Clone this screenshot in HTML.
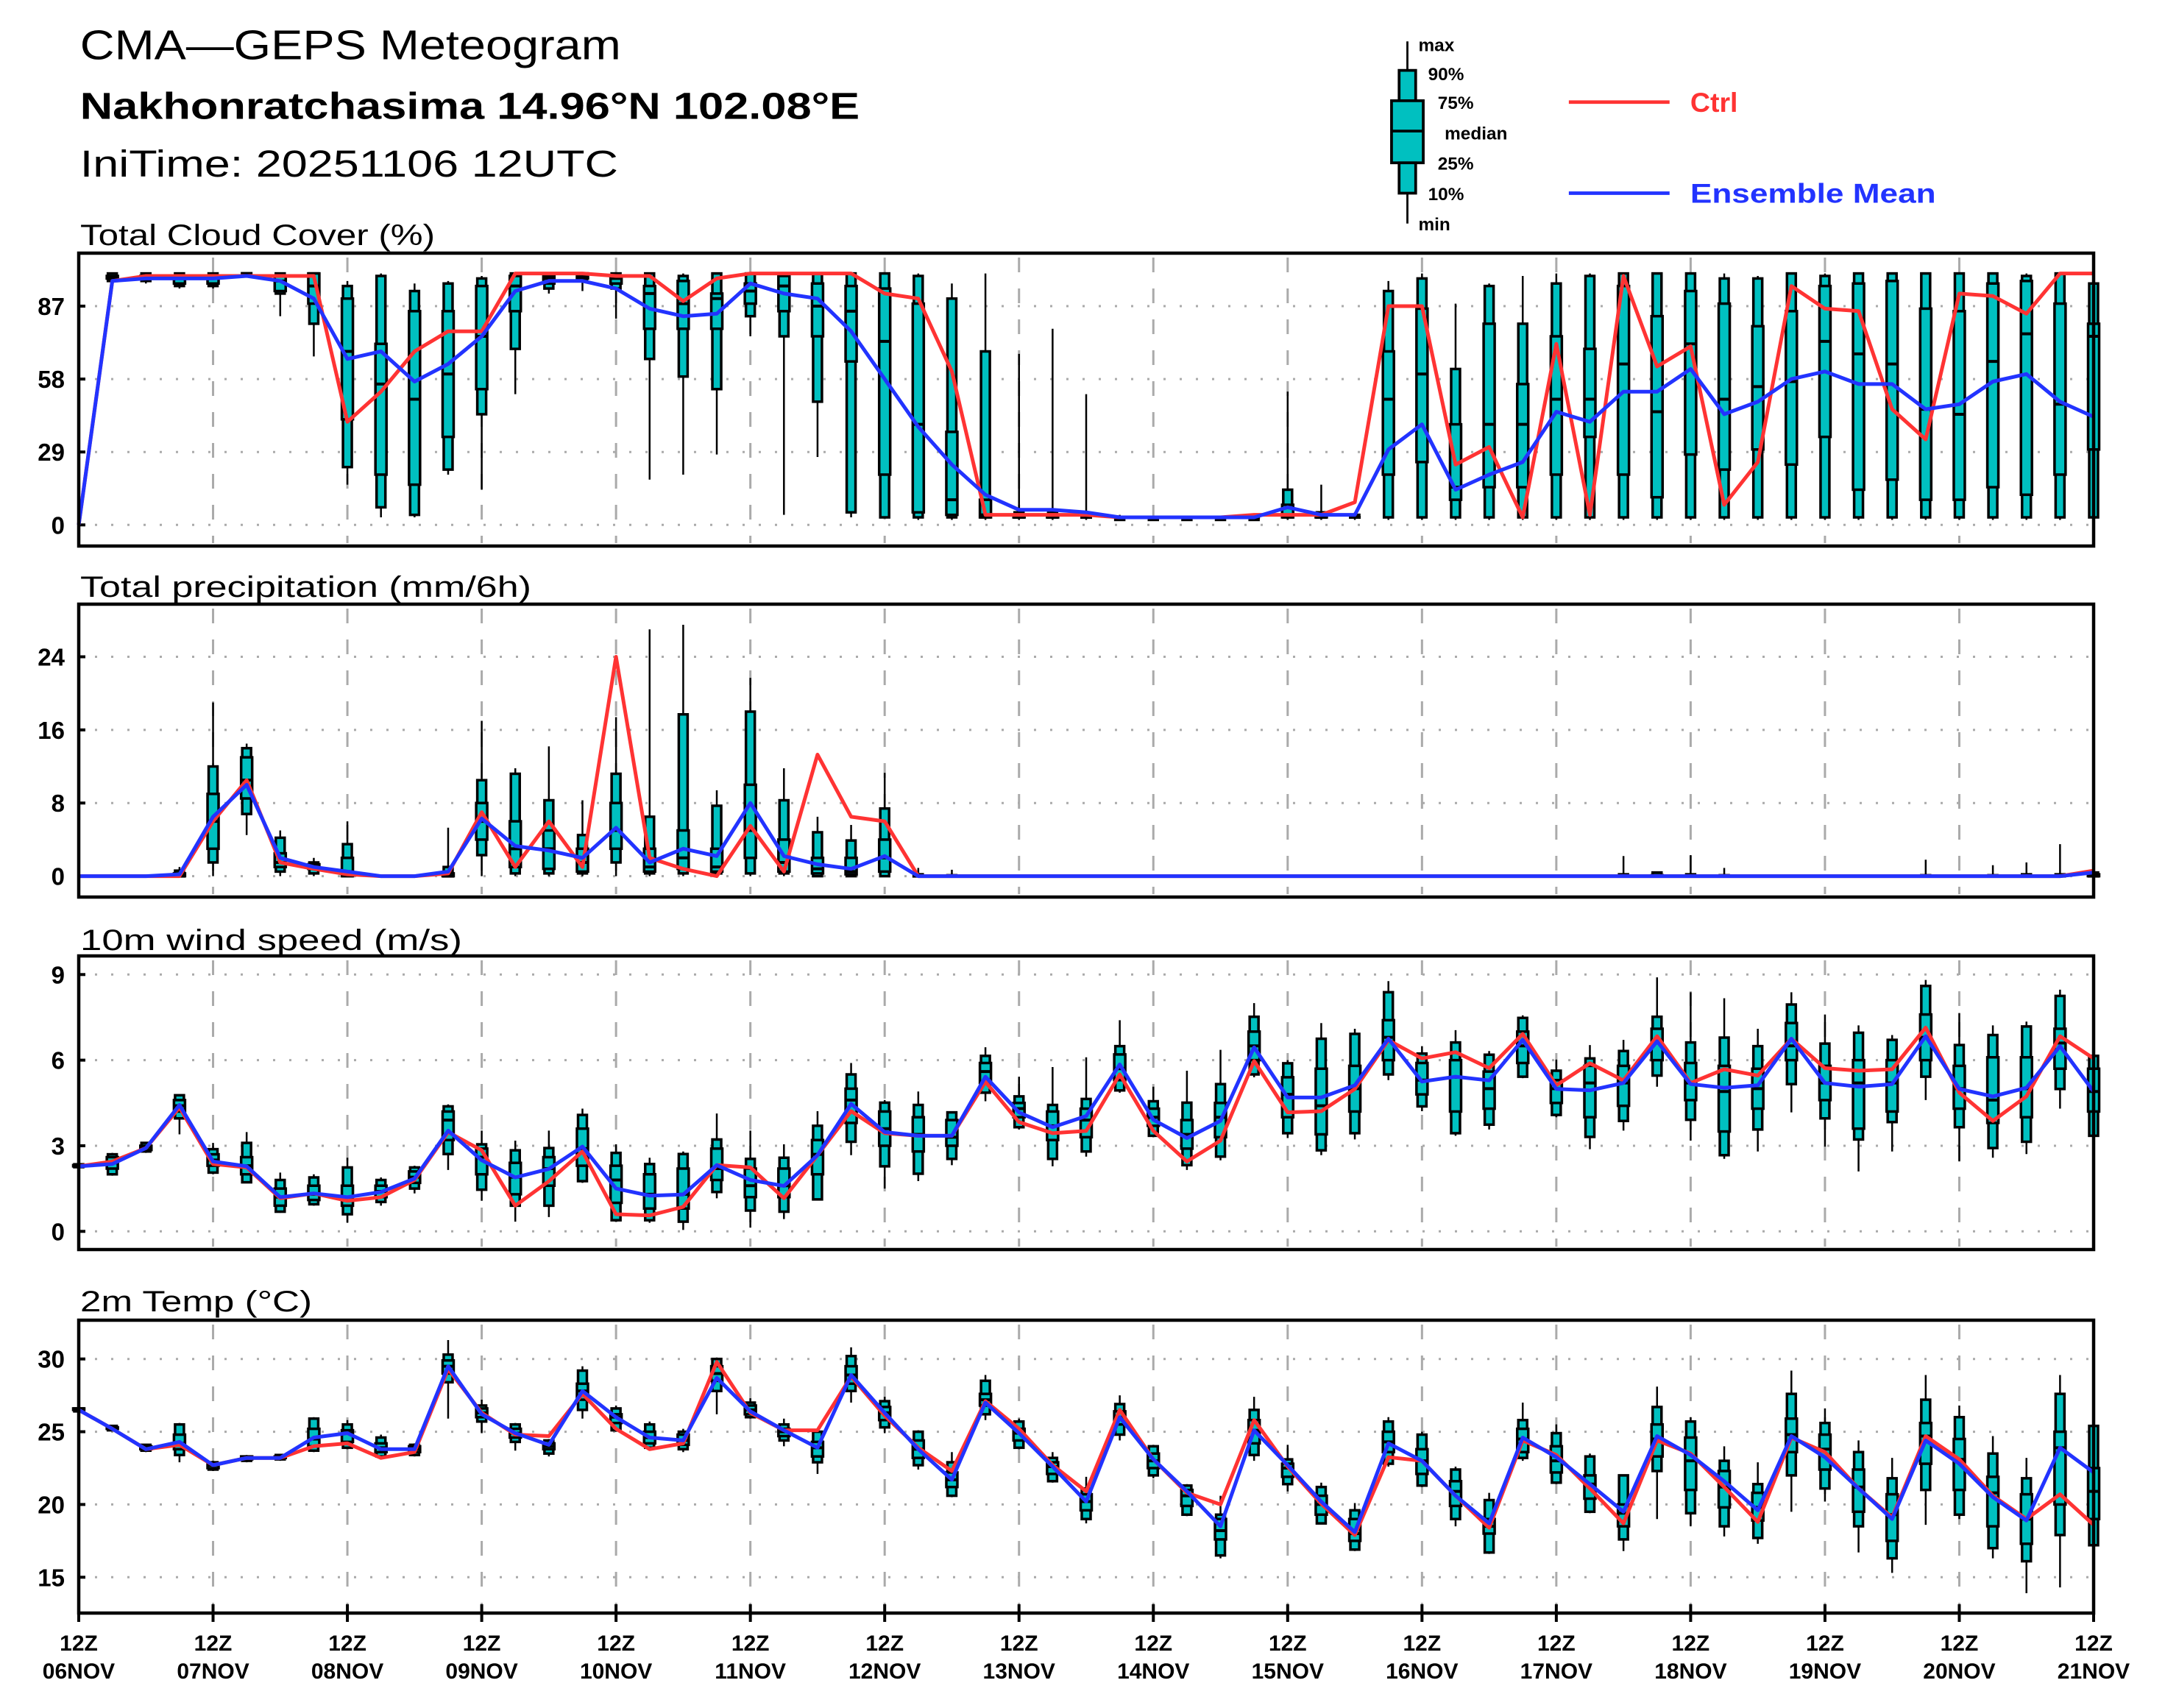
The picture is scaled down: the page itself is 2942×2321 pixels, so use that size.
<!DOCTYPE html>
<html><head><meta charset="utf-8"><title>CMA-GEPS Meteogram</title>
<style>
html,body{margin:0;padding:0;background:#fff;}
svg{display:block;}
text{font-family:"Liberation Sans",sans-serif;}
</style></head>
<body>
<svg id="chart" xmlns="http://www.w3.org/2000/svg" width="2942" height="2321" viewBox="0 0 2942 2321">
<rect x="0" y="0" width="2942" height="2321" fill="#fff"/>
<g transform="scale(1.875)">
  <text x="58" y="43" font-size="30" textLength="392" lengthAdjust="spacingAndGlyphs">CMA—GEPS Meteogram</text>
  <text x="58" y="86" font-size="27" font-weight="bold" textLength="565" lengthAdjust="spacingAndGlyphs">Nakhonratchasima 14.96°N 102.08°E</text>
  <text x="58" y="128" font-size="27" textLength="390" lengthAdjust="spacingAndGlyphs">IniTime: 20251106 12UTC</text>
  <g>
    <line x1="1020" y1="30" x2="1020" y2="162" stroke="#000" stroke-width="1.5"/>
    <rect x="1014" y="51" width="12" height="22" fill="#00c0c0" stroke="#000" stroke-width="2"/>
    <rect x="1008.5" y="73" width="23" height="45" fill="#00c0c0" stroke="#000" stroke-width="2"/>
    <rect x="1014" y="118" width="12" height="22" fill="#00c0c0" stroke="#000" stroke-width="2"/>
    <line x1="1008" y1="95" x2="1032" y2="95" stroke="#000" stroke-width="2"/>
    <text x="1028" y="37" font-size="13" font-weight="bold">max</text>
    <text x="1035" y="58" font-size="13" font-weight="bold">90%</text>
    <text x="1042" y="79" font-size="13" font-weight="bold">75%</text>
    <text x="1047" y="101" font-size="13" font-weight="bold">median</text>
    <text x="1042" y="123" font-size="13" font-weight="bold">25%</text>
    <text x="1035" y="145" font-size="13" font-weight="bold">10%</text>
    <text x="1028" y="167" font-size="13" font-weight="bold">min</text>
  </g>
  <line x1="1137" y1="74" x2="1210" y2="74" stroke="#ff3333" stroke-width="2.5"/>
  <text x="1225" y="81" font-size="20" font-weight="bold" fill="#ff3333">Ctrl</text>
  <line x1="1137" y1="140" x2="1210" y2="140" stroke="#2233ff" stroke-width="2.5"/>
  <text x="1225" y="147" font-size="20" font-weight="bold" fill="#2233ff" textLength="178" lengthAdjust="spacingAndGlyphs">Ensemble Mean</text>
</g>
</svg>
<script>
// ---- data ----
const dayLabels = ["06NOV","07NOV","08NOV","09NOV","10NOV","11NOV","12NOV","13NOV","14NOV","15NOV","16NOV","17NOV","18NOV","19NOV","20NOV","21NOV"];
const cloudTicks = [0,29,58,87];
const precipTicks = [0,8,16,24];
const windTicks = [0,3,6,9];
const tempTicks = [15,20,25,30];

const cloudCtrl = [0,97,99,99,99,99,99,99,41,53,69,77,77,100,100,100,99,99,89,98,100,100,100,100,92,90,61,4,4,4,4,3,3,3,3,4,4,4,9,87,87,24,31,3,72,4,99,63,71,8,25,95,86,85,46,34,92,91,84,100,100];
const cloudMean = [0,97,98,98,98,99,97,90,66,69,57,64,75,93,97,97,94,86,83,84,96,92,90,77,58,39,24,12,6,6,5,3,3,3,3,3,7,4,4,30,40,14,20,25,45,41,53,53,62,44,49,58,61,56,56,46,48,57,60,49,43];
const cloudBox = [
[0,0,0,0,0,0,0],[96,97,98,98,99,100,100],[96,97,98,98,99,100,100],[94,95,96,98,99,100,100],[94,95,96,98,99,100,100],
[99,99,100,100,100,100,100],[83,92,93,97,99,100,100],[67,80,88,95,100,100,100],[16,23,42,69,90,95,97],[3,7,20,56,72,99,100],
[3,4,16,50,85,93,96],[20,22,35,60,85,96,97],[14,44,54,75,95,98,99],[52,70,85,95,99,100,100],[92,94,96,98,99,100,100],
[93,97,98,99,100,100,100],[82,94,96,98,99,100,100],[18,66,78,92,95,100,100],[20,59,78,88,97,99,100],[28,54,78,90,92,100,100],
[75,83,88,93,96,100,100],[4,75,85,95,99,100,100],[27,49,75,87,96,100,100],[3,5,65,85,95,100,100],[3,3,20,73,94,100,100],
[2,3,5,40,88,99,100],[2,3,4,10,37,90,96],[2,3,3,4,10,69,100],[2,3,3,3,4,5,68],[2,3,3,3,4,5,78],
[2,3,3,3,3,4,52],[2,2,3,3,3,3,4],[2,2,3,3,3,3,3],[2,2,3,3,3,3,3],[2,2,3,3,3,3,3],
[2,2,3,3,3,3,3],[2,3,3,4,8,14,53],[2,3,3,3,4,5,16],[2,3,3,3,3,4,5],[2,3,20,50,69,93,97],
[2,3,25,60,86,98,100],[2,3,10,15,40,62,88],[2,3,15,40,80,95,96],[2,3,15,40,56,80,99],[2,3,20,50,75,96,100],
[2,3,35,50,70,99,100],[2,3,20,64,95,100,100],[2,3,11,45,83,100,100],[2,3,28,72,93,100,100],[2,3,22,50,88,98,100],
[2,3,30,55,79,98,99],[2,3,24,57,85,100,100],[2,3,35,73,95,99,100],[2,3,14,68,96,100,100],[2,3,18,64,97,100,100],
[2,3,10,46,86,100,100],[2,3,10,44,85,100,100],[2,3,15,65,96,100,100],[2,3,12,76,97,99,100],[2,3,20,48,88,100,100],
[2,3,30,75,80,96,97]];

const precipCtrl = [0,0,0,0,6,10.5,1.5,0.8,0.2,0,0,0.3,7,1,6,1,24,2,0.8,0,5.5,0.5,13.3,6.5,6,0,0,0,0,0,0,0,0,0,0,0,0,0,0,0,0,0,0,0,0,0,0,0,0,0,0,0,0,0,0,0,0,0,0,0,0.6];
const precipMean = [0,0,0,0.2,6.5,10,2,1,0.5,0,0,0.5,6.3,3.3,2.8,2,5.3,1.5,3,2.2,8,2.2,1.3,0.8,2.2,0,0,0,0,0,0,0,0,0,0,0,0,0,0,0,0,0,0,0,0,0,0,0,0,0,0,0,0,0,0,0,0,0,0,0,0.4];
const precipBox = [
[0,0,0,0,0,0,0],[0,0,0,0,0,0,0],[0,0,0,0,0,0,0],[0,0,0,0,0.3,0.6,1],[0,1.5,3,6,9,12,19],
[4.5,6.8,8.5,10.5,13,14,14.5],[0,0.5,1,1.5,2.5,4.2,5],[0,0.3,0.8,1,1.3,1.5,2],[0,0,0,0.5,2,3.5,6],[0,0,0,0,0,0,0],
[0,0,0,0,0,0,0],[0,0,0,0,0.3,1,5.3],[0,2.3,4,6,8,10.5,17],[0,0.3,1,3,6,11.2,11.8],[0,0.3,0.8,3,5,8.3,14.2],
[0,0.3,0.5,1.5,3,4.5,8.3],[0,1.5,3,5,8,11.2,17.4],[0,0.3,0.5,1,3,6.5,27],[0,0.3,0.8,2,5,17.7,27.5],[0,0.3,0.5,1,3,7.7,9.4],
[0,0.3,2,5,10,18,21.7],[0,0.3,0.5,1.5,4,8.3,11.8],[0,0,0.3,0.8,2,4.8,6.5],[0,0,0.2,0.5,2,3.9,5.6],[0,0,0.5,2,4,7.4,11.3],
[0,0,0,0,0,0.2,0.9],[0,0,0,0,0,0.1,0.7],[0,0,0,0,0,0,0],[0,0,0,0,0,0,0],[0,0,0,0,0,0,0],
[0,0,0,0,0,0,0],[0,0,0,0,0,0,0],[0,0,0,0,0,0,0],[0,0,0,0,0,0,0],[0,0,0,0,0,0,0],
[0,0,0,0,0,0,0],[0,0,0,0,0,0,0],[0,0,0,0,0,0,0],[0,0,0,0,0,0,0],[0,0,0,0,0,0,0],
[0,0,0,0,0,0,0],[0,0,0,0,0,0,0],[0,0,0,0,0,0,0],[0,0,0,0,0,0,0],[0,0,0,0,0,0,0],
[0,0,0,0,0,0,0],[0,0,0,0,0,0.2,2.2],[0,0,0,0,0.1,0.4,0.5],[0,0,0,0,0,0.2,2.3],[0,0,0,0,0,0.1,0.9],
[0,0,0,0,0,0,0],[0,0,0,0,0,0,0],[0,0,0,0,0,0,0],[0,0,0,0,0,0,0],[0,0,0,0,0,0,0],
[0,0,0,0,0,0.1,1.8],[0,0,0,0,0,0,0],[0,0,0,0,0,0.1,1.2],[0,0,0,0,0,0.2,1.5],[0,0,0,0,0,0.2,3.5],
[0,0,0,0,0.2,0.4,0.6]];

const windCtrl = [2.28,2.45,2.92,4.34,2.36,2.24,1.16,1.33,1.07,1.2,1.8,3.48,2.84,0.9,1.76,2.8,0.6,0.56,0.86,2.32,2.24,1.16,2.67,4.21,3.44,3.35,3.35,5.24,3.83,3.44,3.52,5.5,3.52,2.45,3.18,5.97,4.17,4.21,4.99,6.7,6.06,6.28,5.72,6.92,5.12,5.89,5.29,6.84,5.2,5.68,5.46,6.75,5.72,5.63,5.68,7.14,4.86,3.87,4.73,6.84,6.06];
const windMean = [2.28,2.36,2.92,4.43,2.45,2.28,1.2,1.33,1.2,1.38,1.85,3.53,2.49,1.89,2.19,2.97,1.5,1.25,1.29,2.32,1.8,1.59,2.67,4.47,3.48,3.35,3.35,5.42,4.17,3.65,4.04,5.85,3.91,3.27,3.87,6.45,4.69,4.69,5.12,6.75,5.25,5.42,5.29,6.71,4.99,4.94,5.2,6.66,5.16,5.03,5.12,6.75,5.2,5.07,5.16,6.84,4.99,4.73,5.03,6.49,4.9];
const windBox = [
[2.2,2.25,2.28,2.3,2.32,2.35,2.4],[1.95,2.0,2.2,2.4,2.6,2.7,2.75],[2.75,2.8,2.85,2.95,3.0,3.1,3.1],[3.4,3.96,4.2,4.4,4.6,4.77,4.8],[2.0,2.06,2.3,2.5,2.7,2.88,3.1],
[1.7,1.72,2.0,2.3,2.6,3.1,3.48],[0.65,0.69,0.9,1.2,1.5,1.8,2.06],[0.9,0.95,1.1,1.3,1.6,1.89,2.0],[0.3,0.6,0.9,1.2,1.6,2.24,2.58],[0.9,1.03,1.2,1.4,1.6,1.8,1.89],
[1.33,1.5,1.7,1.9,2.1,2.24,2.3],[2.15,2.71,3.2,3.9,4.2,4.38,4.45],[1.07,1.46,2.0,2.6,2.9,3.05,3.53],[0.34,0.9,1.3,1.9,2.4,2.84,3.18],[0.5,0.9,1.6,2.2,2.6,2.92,3.53],
[1.7,1.76,2.3,2.9,3.6,4.08,4.3],[0.34,0.39,1.0,1.8,2.3,2.75,3.05],[0.3,0.39,0.8,1.3,2.0,2.36,2.58],[0.05,0.34,0.8,1.3,2.2,2.71,2.8],[1.16,1.38,1.8,2.2,2.9,3.22,4.13],
[0.13,0.73,1.2,1.6,2.2,2.54,3.53],[0.43,0.69,1.2,1.6,2.2,2.58,3.05],[1.1,1.12,2.0,2.7,3.2,3.7,4.21],[2.67,3.14,3.8,4.6,5.0,5.5,5.9],[1.5,2.28,3.0,3.6,4.2,4.51,4.6],
[1.76,2.02,2.8,3.4,4.0,4.43,4.9],[2.32,2.54,3.0,3.3,3.9,4.17,4.21],[4.56,4.86,5.2,5.6,5.9,6.15,6.45],[3.57,3.65,4.0,4.3,4.5,4.73,5.42],[2.28,2.54,3.2,3.7,4.2,4.43,5.76],
[2.62,2.8,3.3,3.9,4.3,4.64,6.1],[4.86,4.94,5.3,5.7,6.2,6.49,7.4],[3.3,3.35,3.7,4.0,4.3,4.56,5.07],[2.15,2.32,2.9,3.4,3.9,4.51,5.63],[2.49,2.62,3.3,4.0,4.5,5.16,6.36],
[5.4,5.5,6.0,6.5,7.0,7.52,8.0],[3.27,3.44,4.0,4.8,5.4,5.89,6.0],[2.67,2.84,3.4,4.4,5.7,6.75,7.3],[3.22,3.44,4.2,5.0,5.8,6.92,7.1],[5.3,5.5,6.0,6.8,7.4,8.38,8.77],
[4.21,4.38,4.8,5.3,5.9,6.23,6.49],[3.35,3.44,4.2,5.4,6.0,6.62,7.05],[3.57,3.74,4.3,5.0,5.6,6.19,6.32],[5.37,5.42,5.9,6.5,7.0,7.48,7.57],[4.0,4.08,4.5,5.0,5.3,5.63,6.02],
[2.88,3.31,4.0,5.2,5.8,6.06,6.53],[3.53,3.87,4.4,5.2,5.8,6.32,6.71],[5.07,5.46,6.0,6.6,7.1,7.52,8.9],[3.18,3.91,4.6,5.2,5.9,6.62,8.38],[2.54,2.67,3.5,4.9,5.8,6.79,8.17],
[2.8,3.57,4.3,5.0,5.7,6.49,7.1],[4.17,5.16,6.0,6.5,7.3,7.95,8.38],[2.97,3.96,4.6,5.2,5.8,6.58,7.6],[2.1,3.22,3.6,5.2,6.0,6.96,7.22],[2.8,3.83,4.2,5.2,6.0,6.71,6.88],
[4.6,5.42,6.0,6.8,7.6,8.6,8.81],[2.45,3.65,4.3,5.0,5.8,6.53,7.65],[2.58,2.92,3.8,4.6,6.1,6.88,7.22],[2.71,3.14,4.0,5.0,6.1,7.18,7.35],[4.3,4.99,5.7,6.6,7.1,8.25,8.47],
[3.35,3.35,4.2,4.9,5.7,6.15,6.19]];

const tempCtrl = [26.5,25.2,23.8,24.1,22.7,23.2,23.2,24.0,24.2,23.2,23.6,29.3,26.3,24.8,24.7,27.6,25.2,23.8,24.2,29.8,26.3,25.1,25.1,28.8,26.1,23.9,22.3,27.1,25.2,22.7,20.9,26.5,23.1,20.8,20.0,25.8,22.6,20.05,17.9,23.25,23.0,20.6,18.4,24.4,23.4,21.1,18.7,24.4,23.5,21.2,18.8,24.6,23.6,21.1,19.1,24.7,23.1,20.6,19.0,20.7,18.6];
const tempMean = [26.5,25.2,23.8,24.3,22.7,23.2,23.2,24.6,24.9,23.8,23.8,29.5,26.2,24.9,24.1,27.8,26.0,24.6,24.4,28.7,26.4,25.1,23.9,28.9,26.3,23.8,21.7,27.0,24.9,22.6,20.2,26.0,23.1,20.9,18.5,25.1,22.7,20.2,18.1,24.2,23.0,20.6,18.7,24.6,23.25,21.4,19.5,24.7,23.4,21.6,19.6,24.7,23.25,21.1,19.0,24.4,22.8,20.5,18.9,23.9,22.2];
const tempBox = [
[26.3,26.4,26.5,26.5,26.6,26.6,26.7],[25.1,25.1,25.2,25.2,25.3,25.4,25.4],[23.6,23.7,23.8,23.9,24.0,24.1,24.1],[22.9,23.4,23.8,24.2,24.8,25.5,25.6],[22.3,22.4,22.5,22.7,22.8,22.9,23.0],
[22.9,23.0,23.1,23.2,23.3,23.3,23.4],[23.0,23.1,23.2,23.2,23.3,23.4,23.4],[23.6,23.7,24.0,24.5,25.2,25.9,26.0],[23.8,23.9,24.3,24.9,25.1,25.5,25.8],[23.1,23.3,23.6,23.9,24.2,24.6,24.8],
[23.3,23.4,23.6,23.8,24.0,24.1,24.2],[25.9,28.4,29.0,29.5,29.9,30.3,31.3],[24.9,25.7,26.0,26.3,26.6,26.8,27.2],[23.7,24.3,24.6,24.9,25.2,25.5,25.6],[23.3,23.5,23.8,24.0,24.2,24.4,24.5],
[25.9,26.5,27.2,27.8,28.3,29.2,29.5],[25.0,25.1,25.6,26.0,26.2,26.6,26.8],[23.7,23.9,24.2,24.6,25.0,25.5,25.7],[23.6,23.8,24.1,24.4,24.8,25.0,25.2],[26.2,27.8,28.5,29.0,29.5,30.0,30.1],
[25.9,26.0,26.2,26.5,26.8,27.0,27.3],[24.0,24.4,24.7,25.0,25.2,25.5,25.9],[22.1,22.9,23.3,23.9,24.3,25.0,25.1],[27.0,27.8,28.3,28.9,29.5,30.2,30.8],[24.9,25.3,25.8,26.3,26.7,27.1,27.4],
[22.4,22.7,23.2,23.8,24.4,25.0,25.1],[20.5,20.6,21.2,21.7,22.2,22.9,23.6],[25.8,26.2,26.8,27.2,27.6,28.5,28.9],[23.8,23.9,24.4,24.9,25.2,25.7,25.9],[21.5,21.6,22.1,22.6,22.9,23.2,23.6],
[18.7,19.0,19.6,20.2,20.7,21.1,21.9],[24.4,24.8,25.5,26.0,26.4,26.9,27.5],[21.8,22.0,22.5,23.0,23.5,24.0,24.1],[19.2,19.3,19.9,20.6,21.0,21.3,21.4],[16.3,16.5,17.6,18.2,19.0,19.3,20.6],
[23.0,23.4,24.2,25.1,25.8,26.5,27.4],[20.9,21.4,21.9,22.5,22.8,23.1,24.1],[18.7,18.7,19.3,20.0,20.6,21.2,21.5],[16.8,16.9,17.5,18.0,19.0,19.6,20.1],[22.6,22.8,23.6,24.3,25.0,25.7,26.0],
[21.2,21.3,22.1,23.0,23.8,24.8,25.0],[18.5,19.0,19.9,20.9,21.6,22.4,22.6],[16.6,16.7,18.0,18.5,19.0,20.3,20.8],[23.0,23.2,23.6,24.5,25.2,25.8,27.0],[21.4,21.5,22.2,23.0,24.0,24.9,25.5],
[19.4,19.5,20.4,21.4,22.0,23.3,23.5],[16.8,17.6,18.5,19.4,20.0,22.0,22.0],[19.0,22.3,23.3,24.5,25.5,26.7,28.1],[18.5,19.4,21.0,23.0,24.6,25.7,26.0],[17.8,18.5,19.8,21.2,22.3,23.0,24.0],
[17.3,17.7,18.9,19.8,20.8,21.4,22.9],[19.5,22.0,23.6,24.8,25.9,27.6,29.2],[20.2,21.1,22.4,23.8,24.8,25.6,26.6],[16.7,18.5,19.5,21.2,22.4,23.6,24.4],[15.3,16.3,17.5,19.3,20.7,21.8,23.2],
[18.6,21.0,22.8,24.7,25.6,27.2,28.9],[19.0,19.3,21.0,23.1,24.5,26.0,26.8],[16.3,17.0,18.5,20.8,21.9,23.5,24.7],[13.9,16.1,17.3,19.0,20.7,21.8,23.2],[14.3,17.9,20.0,23.9,25.0,27.6,28.9],
[17.2,17.2,19.0,20.9,22.5,25.4,25.5]];

// ---- drawing ----
const NS = "http://www.w3.org/2000/svg";
const svg = document.getElementById("chart");
const X0 = 107, X1 = 2845, NPTS = 61;
function xAt(i){ return X0 + i*(X1-X0)/(NPTS-1); }
function mk(tag, attrs, parent){
  const e = document.createElementNS(NS, tag);
  for (const k in attrs) e.setAttribute(k, attrs[k]);
  (parent||svg).appendChild(e);
  return e;
}

function drawPanel(cfg){
  const g = mk("g", {});
  
  
  const yAt = v => cfg.y0 + (v - cfg.v0) * (cfg.y1 - cfg.y0) / (cfg.v1 - cfg.v0);
  // title
  const t = mk("text", {x:109, y:cfg.titleY, "font-size":40, "textLength":cfg.titleLen, "lengthAdjust":"spacingAndGlyphs"}, g);
  t.textContent = cfg.title;
  
  
  // horizontal grid + ticks + labels
  cfg.ticks.forEach(v => {
    const y = yAt(v);
    const gl = mk("line", {x1:X0, y1:y, x2:X1, y2:y, stroke:"#aaa", "stroke-width":3, "stroke-dasharray":"3 19"}, g);
    
    
    const tk = mk("line", {x1:X0, y1:y, x2:X0+9, y2:y, stroke:"#000", "stroke-width":4}, g);
    
    
    const lb = mk("text", {x:88, y:y+12, "font-size":33, "font-weight":"bold", "text-anchor":"end"}, g);
    lb.textContent = String(v);
    
    
  });
  // vertical day dashed lines
  for (let k = 1; k < 15; k++){
    const x = xAt(k*4);
    const vl = mk("line", {x1:x, y1:cfg.top+6, x2:x, y2:cfg.bottom-4, stroke:"#aaa", "stroke-width":3, "stroke-dasharray":"20 22"}, g);
    
    
  }
  // boxes
  cfg.box.forEach((b, i) => {
    if (b[6] <= 0) return;
    const x = xAt(i);
    const bg = mk("g", {}, g);
    
    
    mk("line", {x1:x, y1:yAt(b[0]), x2:x, y2:yAt(b[6]), stroke:"#000", "stroke-width":2.5}, bg);
    const yp10 = yAt(b[1]), yp90 = yAt(b[5]), yp25 = yAt(b[2]), yp75 = yAt(b[4]);
    mk("rect", {x:x-6, y:Math.min(yp10,yp90), width:12, height:Math.abs(yp10-yp90), fill:"#00c0c0", stroke:"#000", "stroke-width":3.5}, bg);
    mk("rect", {x:x-7.5, y:Math.min(yp25,yp75), width:15, height:Math.abs(yp25-yp75), fill:"#00c0c0", stroke:"#000", "stroke-width":3.5}, bg);
    mk("line", {x1:x-8, y1:yAt(b[3]), x2:x+8, y2:yAt(b[3]), stroke:"#000", "stroke-width":4}, bg);
  });
  // series lines
  const ctrlPts = cfg.ctrl.map((v,i) => xAt(i).toFixed(1) + "," + yAt(v).toFixed(1)).join(" ");
  const cl = mk("polyline", {points:ctrlPts, fill:"none", stroke:"#ff3333", "stroke-width":5, "stroke-linejoin":"round"}, g);
  
  
  const meanPts = cfg.mean.map((v,i) => xAt(i).toFixed(1) + "," + yAt(v).toFixed(1)).join(" ");
  const ml = mk("polyline", {points:meanPts, fill:"none", stroke:"#2233ff", "stroke-width":5, "stroke-linejoin":"round"}, g);
  
  
  // frame
  const fr = mk("rect", {x:X0, y:cfg.top, width:X1-X0, height:cfg.bottom-cfg.top, fill:"none", stroke:"#000", "stroke-width":4.5}, g);
  
  
  return g;
}

drawPanel({name:"cloud-cover", title:"Total Cloud Cover (%)", titleY:333, titleLen:482, top:344, bottom:742, y0:713.3, v0:0, y1:416, v1:87, ticks:cloudTicks, box:cloudBox, ctrl:cloudCtrl, mean:cloudMean});
drawPanel({name:"precipitation", title:"Total precipitation (mm/6h)", titleY:811, titleLen:613, top:821, bottom:1219, y0:1190.6, v0:0, y1:892.5, v1:24, ticks:precipTicks, box:precipBox, ctrl:precipCtrl, mean:precipMean});
drawPanel({name:"wind-speed", title:"10m wind speed (m/s)", titleY:1291, titleLen:519, top:1299, bottom:1698, y0:1673.3, v0:0, y1:1324.3, v1:9, ticks:windTicks, box:windBox, ctrl:windCtrl, mean:windMean});
drawPanel({name:"temperature", title:"2m Temp (°C)", titleY:1782, titleLen:315, top:1794, bottom:2192, y0:2143.3, v0:15, y1:1846.7, v1:30, ticks:tempTicks, box:tempBox, ctrl:tempCtrl, mean:tempMean});

// x axis ticks and labels
dayLabels.forEach((d, k) => {
  const x = xAt(k*4);
  const tk = mk("line", {x1:x, y1:2180, x2:x, y2:2204, stroke:"#000", "stroke-width":4});
  
  
  const l1 = mk("text", {x:x, y:2243, "font-size":30, "font-weight":"bold", "text-anchor":"middle"});
  l1.textContent = "12Z";
  
  
  const l2 = mk("text", {x:x, y:2281, "font-size":30, "font-weight":"bold", "text-anchor":"middle"});
  l2.textContent = d;
  
  
});
</script>
</body></html>
